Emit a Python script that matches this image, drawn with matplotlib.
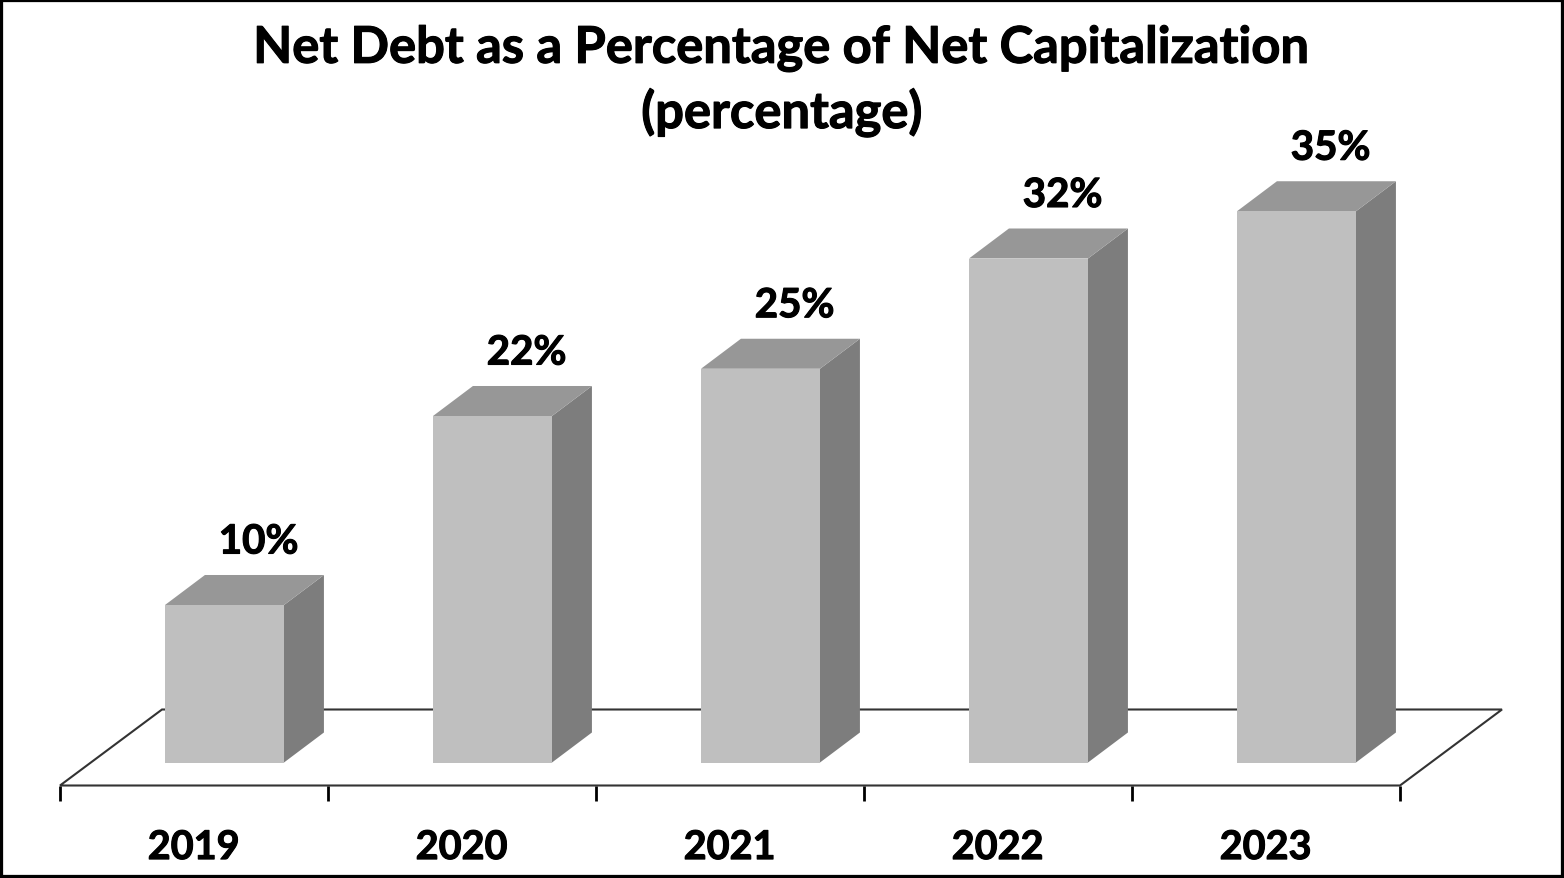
import matplotlib
matplotlib.use('Agg')
import matplotlib.pyplot as plt
import matplotlib.patheffects as pe
from matplotlib.patches import Polygon, Rectangle

plt.rcParams['font.family'] = ['Lato', 'DejaVu Sans']

# data
years = ['2019', '2020', '2021', '2022', '2023']
values = [10, 22, 25, 32, 35]

title_text = 'Net Debt as a Percentage of Net Capitalization\n(percentage)'

# bar look
bar_w = 0.444
depth_x = 0.149   # 3d offset, category units
depth_y = 1.905   # 3d offset, percent units
c_front = '#BFBFBF'
c_top = '#979797'
c_side = '#7D7D7D'

# thicker strokes, the source font is heavier than Lato bold
heavy = [pe.withStroke(linewidth=0.8, foreground='black')]

fig = plt.figure(figsize=(15.64, 8.79), dpi=100)
ax = fig.add_axes([0, 0, 1, 1])
ax.set_xlim(-224.5 / 268, (1564 - 224.5) / 268)
ax.set_ylim(-115.5 / 15.75, 763.5 / 15.75)
ax.axis('off')

# floor of the 3d chart
floor_y0 = -23 / 15.75
floor_y1 = 53 / 15.75
left = -0.5 - 30.5 / 268
right = left + len(years)
floor_dx = 102 / 268
ax.add_patch(Polygon([(left, floor_y0), (right, floor_y0), (right + floor_dx, floor_y1), (left + floor_dx, floor_y1)],
                     closed=True, facecolor='white', edgecolor='#333333', linewidth=1.5, zorder=1))

# tick marks under the floor
for i in range(len(years) + 1):
    ax.plot([left + i, left + i], [floor_y0, floor_y0 - 15 / 15.75], color='black', linewidth=2, zorder=1,
            solid_capstyle='butt')

# bars
for i, v in enumerate(values):
    x0 = i - bar_w / 2
    x1 = i + bar_w / 2
    ax.add_patch(Polygon([(x1, 0), (x1 + depth_x, depth_y), (x1 + depth_x, v + depth_y), (x1, v)],
                         closed=True, facecolor=c_side, edgecolor='none', zorder=2))
    ax.add_patch(Polygon([(x0, v), (x1, v), (x1 + depth_x, v + depth_y), (x0 + depth_x, v + depth_y)],
                         closed=True, facecolor=c_top, edgecolor='none', zorder=2))
    ax.add_patch(Rectangle((x0, 0), bar_w, v, facecolor=c_front, edgecolor='none', zorder=3))
    ax.text(i + 0.127, v + 4.0, f'{v}%', ha='center', va='center', fontsize=29, fontweight='bold', color='black',
            path_effects=heavy)
    ax.text(i - 0.115, -5.4, years[i], ha='center', va='center', fontsize=28.5, fontweight='bold', color='black',
            path_effects=heavy)

# title
fig.text(0.5, 0.9065, title_text, ha='center', va='center', fontsize=36.5, fontweight='bold', color='black',
         linespacing=1.37, path_effects=heavy)

# outer frame
fig.add_artist(Rectangle((0, 0), 1, 1, transform=fig.transFigure, fill=False, edgecolor='black', linewidth=4.5))

fig.savefig('out.png', dpi=100)
